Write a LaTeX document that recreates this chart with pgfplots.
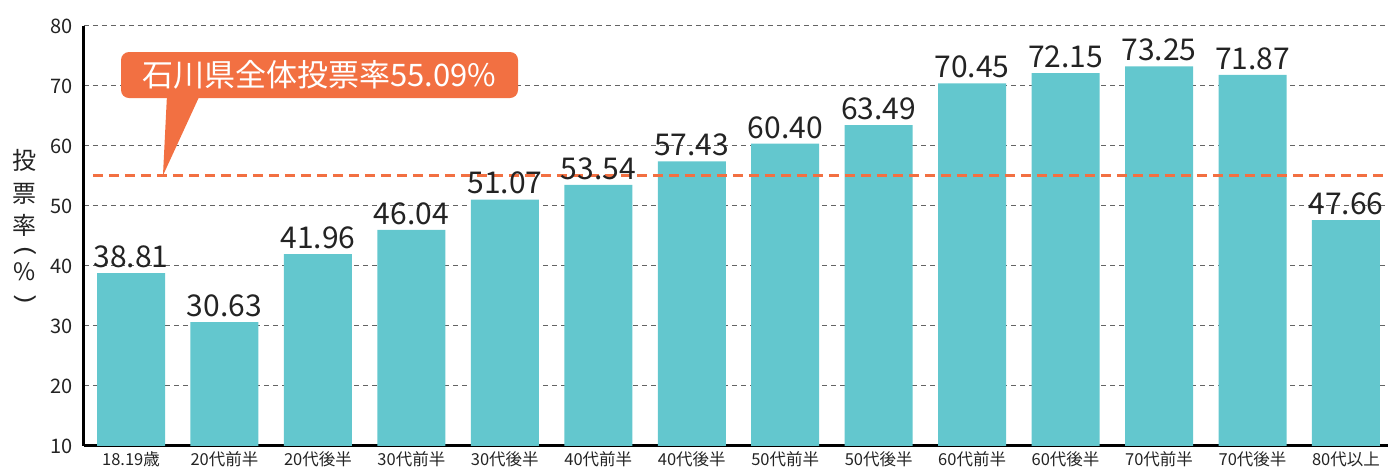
\documentclass[border=0pt]{standalone}
\usepackage{fontspec}
\setmainfont{Noto Sans CJK JP}
\usepackage{pgfplots}
\pgfplotsset{compat=1.18}
\definecolor{barc}{RGB}{99,199,206}
\definecolor{orng}{RGB}{242,112,66}
\definecolor{gridc}{RGB}{100,100,100}
\definecolor{txt}{RGB}{35,35,35}
\begin{document}
\begin{tikzpicture}
\begin{axis}[
  scale only axis, width=1304pt, height=420pt,
  xmin=-0.503, xmax=13.45, ymin=10, ymax=80,
  axis x line=bottom, axis y line=left,
  axis line style={-, black, line width=3pt},
  ytick={10,20,...,80},
  xtick={0,...,13},
  xticklabels={18.19歳,20代前半,20代後半,30代前半,30代後半,40代前半,40代後半,50代前半,50代後半,60代前半,60代後半,70代前半,70代後半,80代以上},
  major tick length=0pt,
  ymajorgrids,
  grid style={gridc, line width=1pt, dash pattern=on 5pt off 4pt},
  /pgf/number format/assume math mode=true,
  yticklabel style={font=\fontsize{20}{20}\selectfont, text=txt, xshift=-8pt},
  xticklabel style={font=\fontsize{16.5}{16.5}\selectfont, text=txt, yshift=-2pt},
  ybar, bar width=68pt, bar shift=0pt,
  nodes near coords,
  nodes near coords style={font=\fontsize{30}{30}\selectfont, text=txt, inner sep=0pt, yshift=5pt,
    /pgf/number format/.cd, fixed, fixed zerofill, precision=2, assume math mode=true},
]
\addplot[fill=barc, draw=none] coordinates {
(0,38.81) (1,30.63) (2,41.96) (3,46.04) (4,51.07) (5,53.54) (6,57.43)
(7,60.40) (8,63.49) (9,70.45) (10,72.15) (11,73.25) (12,71.87) (13,47.66)};
\addplot[sharp plot, orng, line width=3pt, dash pattern=on 10pt off 6pt, nodes near coords={}, forget plot] coordinates {(-0.407,55.09) (13.45,55.09)};
\fill[orng] (axis cs:0.385,68.5) -- (axis cs:0.738,68.5) -- (axis cs:0.342,55.09) -- cycle;
\node[fill=orng, rounded corners=8pt, minimum width=397pt, minimum height=46pt, text=white, font=\fontsize{31}{31}\selectfont, inner sep=0pt] at (axis cs:2.017,71.83) {石川県全体投票率55.09\%};
\coordinate (c1) at (axis cs:-0.503,57.67);
\coordinate (c2) at (axis cs:-0.503,52.0);
\coordinate (c3) at (axis cs:-0.503,46.83);
\coordinate (c4) at (axis cs:-0.503,42.5);
\coordinate (c5) at (axis cs:-0.503,39.0);
\coordinate (c6) at (axis cs:-0.503,34.33);
\coordinate (bl) at (rel axis cs:0,0);
\coordinate (tr) at (rel axis cs:1,1);
\end{axis}
\begin{scope}[every node/.style={font=\fontsize{24}{24}\selectfont, text=txt, inner sep=0pt, xshift=-59pt}]
\node at (c1) {投};
\node at (c2) {票};
\node at (c3) {率};
\node[rotate=-90, xscale=1.4, font=\fontsize{22}{22}\selectfont] at (c4) {(};
\node at (c5) {\%};
\node[rotate=-90, xscale=1.4, font=\fontsize{22}{22}\selectfont] at (c6) {)};
\end{scope}
\pgfresetboundingbox
\path[use as bounding box] ([xshift=-84pt,yshift=-27pt]bl) rectangle ([yshift=26pt]tr);
\end{tikzpicture}
\end{document}
